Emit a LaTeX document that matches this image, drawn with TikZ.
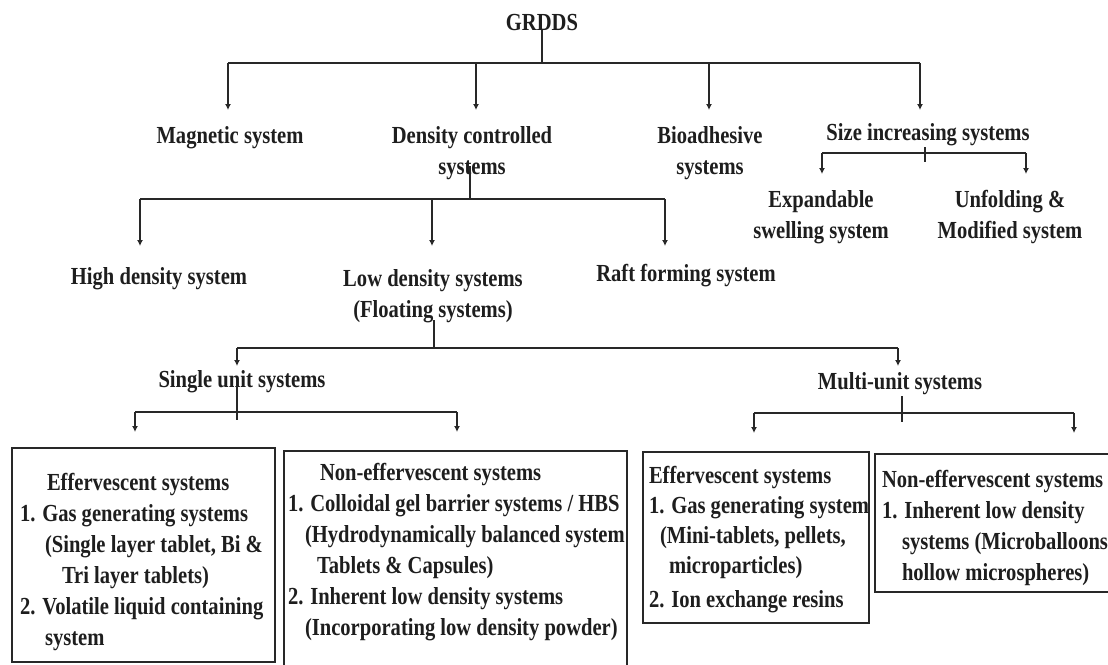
\documentclass[tikz,border=0pt]{standalone}
\usepackage{fontspec}
\setmainfont{Liberation Serif}[FakeStretch=0.84]
\usetikzlibrary{arrows.meta}
\definecolor{ink}{RGB}{30,30,30}
\definecolor{lnc}{RGB}{40,40,40}
\begin{document}
\begin{tikzpicture}[x=1pt,y=-1pt,
  lbl/.style={anchor=base, inner sep=0pt, outer sep=0pt, text=ink, font=\fontsize{24.5}{31}\selectfont\bfseries},
  lblw/.style={lbl, anchor=base west},
  ln/.style={draw=lnc, line width=2pt},
  arr/.style={ln, -{Latex[length=6pt,width=6pt]}},
  boxst/.style={draw=lnc, line width=2pt, inner sep=0pt, outer sep=0pt, anchor=north west}]
\useasboundingbox (0,0) rectangle (1108,664);
\fill[white] (0,0) rectangle (1108,664);

% ---- labels ----
\node[lbl] (grdds) at (542,30) {GRDDS};
\node[lbl] (mag) at (230,143) {Magnetic system};
\node[lbl] (dens) at (472,143) {\begin{tabular}[t]{@{}c@{}}Density controlled\\systems\end{tabular}};
\node[lbl] (bio) at (710,143) {\begin{tabular}[t]{@{}c@{}}Bioadhesive\\systems\end{tabular}};
\node[lbl] (size) at (928,140) {Size increasing systems};
\node[lbl] (exp) at (821,207) {\begin{tabular}[t]{@{}c@{}}Expandable\\swelling system\end{tabular}};
\node[lbl] (unf) at (1010,207) {\begin{tabular}[t]{@{}c@{}}Unfolding \&\\Modified system\end{tabular}};
\node[lbl] (high) at (159,284) {High density system};
\node[lbl] (low) at (433,286) {\begin{tabular}[t]{@{}c@{}}Low density systems\\(Floating systems)\end{tabular}};
\node[lbl] (raft) at (686,281) {Raft forming system};
\node[lbl] (single) at (242,387) {Single unit systems};
\node[lbl] (multi) at (900,389) {Multi-unit systems};

% ---- boxes ----
\node[boxst, minimum width=263pt, minimum height=214pt] (b1) at (12,448) {};
\node[boxst, minimum width=343pt, minimum height=230pt] (b2) at (284,451) {};
\node[boxst, minimum width=226pt, minimum height=171pt] (b3) at (643,452) {};
\node[boxst, minimum width=250pt, minimum height=138pt] (b4) at (875,454) {};

\node[lblw] (t1) at (20,490) {\begin{tabular}[t]{@{}l@{}}
\hspace*{27pt}Effervescent systems\\
1. Gas generating systems\\
\hspace*{25pt}(Single layer tablet, Bi \&\\
\hspace*{42pt}Tri layer tablets)\\
2. Volatile liquid containing\\
\hspace*{25pt}system\end{tabular}};
\node[lblw] (t2) at (288,480) {\begin{tabular}[t]{@{}l@{}}
\hspace*{32pt}Non-effervescent systems\\
1. Colloidal gel barrier systems / HBS\\
\hspace*{17pt}(Hydrodynamically balanced system\\
\hspace*{29pt}Tablets \& Capsules)\\
2. Inherent low density systems\\
\hspace*{17pt}(Incorporating low density powder)\end{tabular}};
\node[lblw] (t3) at (649,483) {\fontsize{24.5}{30}\selectfont\begin{tabular}[t]{@{}l@{}}
Effervescent systems\\
1. Gas generating system\\
\hspace*{11pt}(Mini-tablets, pellets,\\
\hspace*{20pt}microparticles)\\[4pt]
2. Ion exchange resins\end{tabular}};
\node[lblw] (t4) at (882,487) {\begin{tabular}[t]{@{}l@{}}
Non-effervescent systems\\
1. Inherent low density\\
\hspace*{20pt}systems (Microballoons\\
\hspace*{20pt}hollow microspheres)\end{tabular}};

% ---- connectors ----
\coordinate (j0) at (542,63);
\coordinate (j0L) at (228,63);
\coordinate (j0R) at (920,63);
\draw[ln] (grdds.south) -- (j0);
\draw[ln] (j0L) -- (j0R);
\foreach \x in {228,476,709,920} \draw[arr] (\x,63) -- (\x,110);

\coordinate (j1a) at (925,147);
\coordinate (j1b) at (925,162);
\draw[ln] (j1a) -- (j1b);
\draw[ln] (822,153) -- (1026,153);
\foreach \x in {822,1026} \draw[arr] (\x,153) -- (\x,174);

\coordinate (j2) at (470,199);
\draw[ln] (470,166) -- (j2);
\draw[ln] (140,199) -- (665,199);
\foreach \x in {140,432,665} \draw[arr] (\x,199) -- (\x,246);

\coordinate (j3) at (434,348);
\draw[ln] (434,320) -- (j3);
\draw[ln] (237,348) -- (898,348);
\foreach \x in {237,898} \draw[arr] (\x,348) -- (\x,366);

\draw[ln] (237,386) -- (237,420);
\draw[ln] (135,412) -- (457,412);
\foreach \x in {135,457} \draw[arr] (\x,412) -- (\x,432);

\draw[ln] (902,396) -- (902,422);
\draw[ln] (754,413) -- (1074,413);
\foreach \x in {754,1074} \draw[arr] (\x,413) -- (\x,433);
\end{tikzpicture}
\end{document}
